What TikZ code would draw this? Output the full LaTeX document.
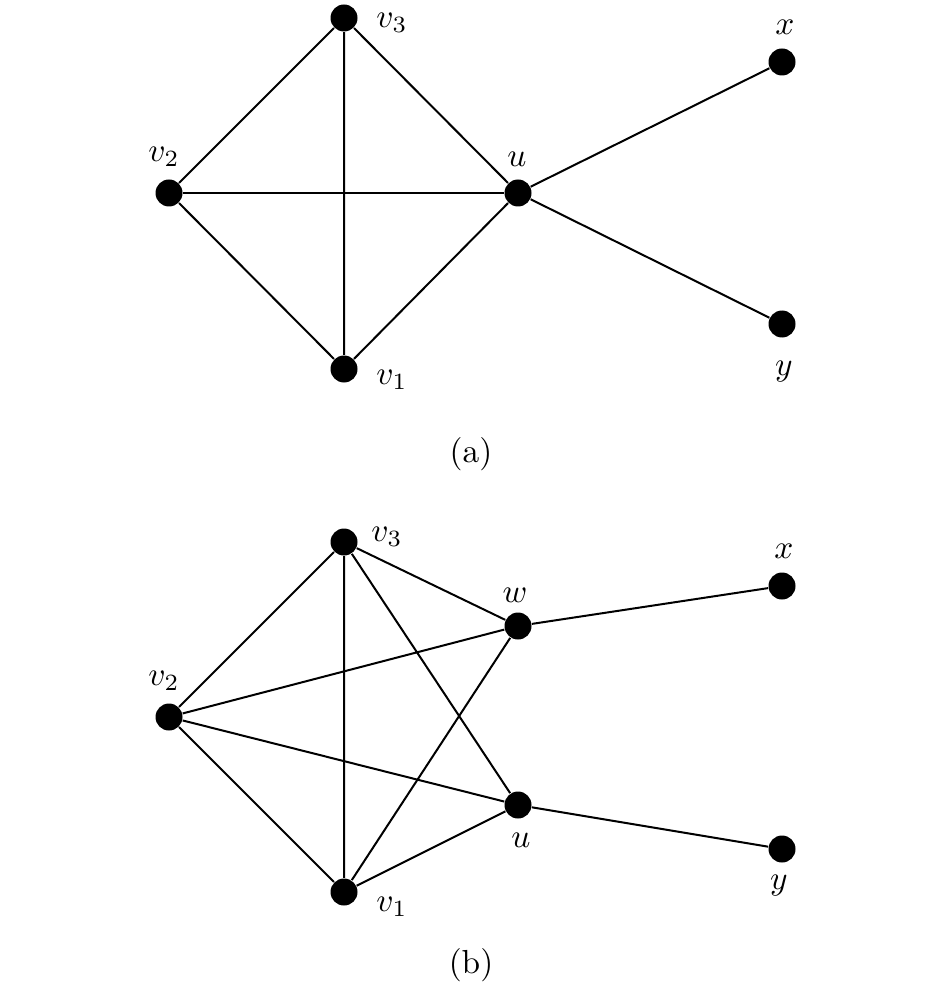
\documentclass[tikz,border=0pt]{standalone}
\usepackage{tikz}

\begin{document}
\begin{tikzpicture}[x=0.3pt, y=-0.3pt,
		vert/.style={circle, fill=black, inner sep=0pt, minimum size=8.1pt},
		etiq/.style={inner sep=0pt},
		arista/.style={semithick}]
		\useasboundingbox (0,0) rectangle (945,982);
		%Grafo (a)
		\node[vert] (a3) at (344,18) {};
		\node[vert] (a2) at (169,193) {};
		\node[vert] (au) at (518,193) {};
		\node[vert] (a1) at (344,369) {};
		\node[vert] (ax) at (782,62) {};
		\node[vert] (ay) at (782,324) {};
		\node[etiq] (la3) at (392,23) {$v_3$};
		\node[etiq] (la2) at (164,157) {$v_2$};
		\node[etiq] (lau) at (517,159) {$u$};
		\node[etiq] (la1) at (392,380) {$v_1$};
		\node[etiq] (lax) at (785,27) {$x$};
		\node[etiq] (lay) at (784,372) {$y$};
		\draw[arista] (a3) -- (a2) -- (a1) -- (au) -- (a3) -- (a1);
		\draw[arista] (a2) -- (au);
		\draw[arista] (ax) -- (au) -- (ay);
		\node (capa) at (471,454) {(a)};
		
		%Grafo (b)
		\node[vert] (b3) at (344,542) {};
		\node[vert] (bw) at (518,626) {};
		\node[vert] (b2) at (169,717) {};
		\node[vert] (bu) at (518,805) {};
		\node[vert] (b1) at (344,892) {};
		\node[vert] (bx) at (782,586) {};
		\node[vert] (by) at (782,849) {};
		\node[etiq] (lb3) at (387,537) {$v_3$};
		\node[etiq] (lbw) at (515,595) {$w$};
		\node[etiq] (lb2) at (164,681) {$v_2$};
		\node[etiq] (lbu) at (521,840) {$u$};
		\node[etiq] (lb1) at (392,907) {$v_1$};
		\node[etiq] (lbx) at (784,551) {$x$};
		\node[etiq] (lby) at (779,886) {$y$};
		\draw[arista] (b3) -- (b2) -- (b1) -- (b3);
		\draw[arista] (b3) -- (bw) -- (b2) -- (bu) -- (b3);
		\draw[arista] (bw) -- (b1) -- (bu);
		\draw[arista] (bw) -- (bx);
		\draw[arista] (bu) -- (by);
		\node (capb) at (471,965) {(b)};
	\end{tikzpicture}
\end{document}
